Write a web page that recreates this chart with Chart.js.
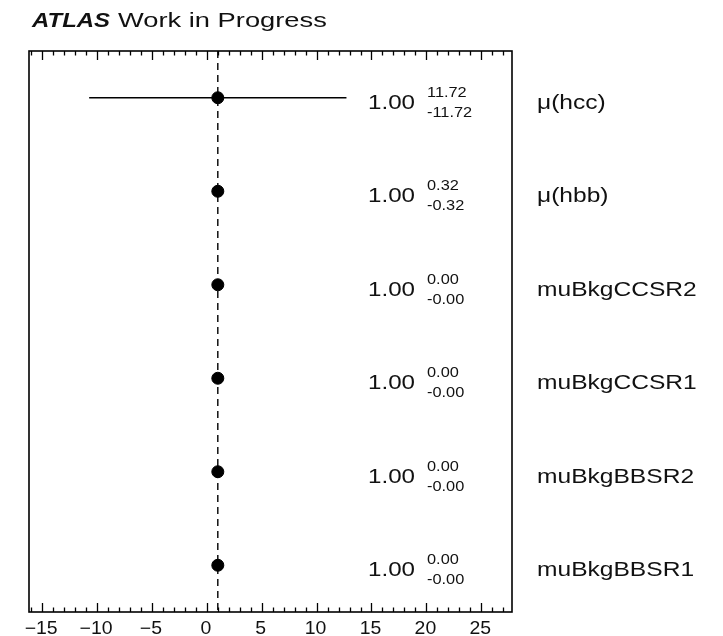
<!DOCTYPE html>
<html>
<head>
<meta charset="utf-8">
<script src="https://cdn.jsdelivr.net/npm/chart.js@4.4.0/dist/chart.umd.min.js"></script>
<style>
  html, body { margin: 0; padding: 0; background: #fff; }
  #wrap { width: 723px; height: 636px; }
</style>
</head>
<body>
<div id="wrap"><canvas id="pulls" width="723" height="636"></canvas></div>
<script>
// fitted parameters, top to bottom
const params = ['μ(hcc)', 'μ(hbb)', 'muBkgCCSR2', 'muBkgCCSR1', 'muBkgBBSR2', 'muBkgBBSR1'];
const bestFit = [1.00, 1.00, 1.00, 1.00, 1.00, 1.00];
const errUp = [11.72, 0.32, 0.00, 0.00, 0.00, 0.00];
const errDown = [11.72, 0.32, 0.00, 0.00, 0.00, 0.00];
const xTicks = [-15, -10, -5, 0, 5, 10, 15, 20, 25];
const refValue = 1;
const xMin = -16.2, xMax = 27.8;

const FONT = '"Liberation Sans", Arial, Helvetica, sans-serif';

function stretchText(ctx, txt, x, y, font, sx, align) {
  ctx.save();
  ctx.font = font;
  ctx.textAlign = align || 'left';
  ctx.textBaseline = 'alphabetic';
  ctx.translate(x, y);
  ctx.scale(sx, 1);
  ctx.fillText(txt, 0, 0);
  ctx.restore();
}

const rowY = i => i + 0.5;

const pointData = params.map((p, i) => ({ x: bestFit[i], y: rowY(i) }));

const errorSets = params.map((p, i) => ({
  type: 'line',
  data: [
    { x: bestFit[i] - errDown[i], y: rowY(i) },
    { x: bestFit[i] + errUp[i], y: rowY(i) }
  ],
  borderColor: '#000',
  borderWidth: 1.3,
  pointRadius: 0,
  showLine: true,
  order: 1
}));

// frame, inward ticks and all the text
const framePlugin = {
  id: 'frame',
  afterDraw(chart) {
    const ctx = chart.ctx;
    const a = chart.chartArea;
    const xs = chart.scales.x, ys = chart.scales.y;

    ctx.save();
    ctx.strokeStyle = '#000';
    ctx.lineWidth = 1.6;
    ctx.strokeRect(a.left, a.top, a.right - a.left, a.bottom - a.top);

    ctx.lineWidth = 1.3;
    ctx.beginPath();
    for (let v = Math.ceil(xMin); v <= xMax; v++) {
      const px = Math.round(xs.getPixelForValue(v)) + 0.5;
      const len = v % 5 === 0 ? 9 : 4.5;
      ctx.moveTo(px, a.bottom); ctx.lineTo(px, a.bottom - len);
      ctx.moveTo(px, a.top); ctx.lineTo(px, a.top + len);
    }
    ctx.stroke();
    ctx.restore();

    ctx.fillStyle = '#111';
    xTicks.forEach(v => {
      const lbl = v < 0 ? '\u2212' + Math.abs(v) : String(v);
      stretchText(ctx, lbl, xs.getPixelForValue(v) - 1, a.bottom + 22, '18px ' + FONT, 1.08, 'center');
    });

    // header
    stretchText(ctx, 'ATLAS', 32, 27, 'italic bold 21px ' + FONT, 1.14, 'left');
    stretchText(ctx, 'Work in Progress', 118, 27, '21px ' + FONT, 1.3, 'left');

    params.forEach((p, i) => {
      const y = ys.getPixelForValue(rowY(i));
      stretchText(ctx, bestFit[i].toFixed(2), 368, y + 11, '21px ' + FONT, 1.15, 'left');
      stretchText(ctx, errUp[i].toFixed(2), 427, y - 1, '15px ' + FONT, 1.09, 'left');
      stretchText(ctx, '-' + errDown[i].toFixed(2), 427, y + 19, '15px ' + FONT, 1.09, 'left');
      stretchText(ctx, p, 537, y + 11, '21px ' + FONT, 1.17, 'left');
    });
  }
};

new Chart(document.getElementById('pulls'), {
  type: 'scatter',
  data: {
    datasets: [
      {
        data: pointData,
        backgroundColor: '#000',
        borderColor: '#000',
        pointRadius: 6,
        pointHoverRadius: 6,
        order: 0
      },
      ...errorSets,
      {
        type: 'line',
        data: [{ x: refValue, y: 0 }, { x: refValue, y: 6 }],
        borderColor: '#000',
        borderWidth: 1.4,
        borderDash: [7, 5],
        pointRadius: 0,
        showLine: true,
        order: 2
      }
    ]
  },
  options: {
    responsive: false,
    animation: false,
    layout: { padding: { left: 29, right: 211, top: 51, bottom: 24 } },
    plugins: { legend: { display: false }, tooltip: { enabled: false } },
    scales: {
      x: { type: 'linear', min: xMin, max: xMax, display: false },
      y: { type: 'linear', min: 0, max: 6, reverse: true, display: false }
    }
  },
  plugins: [framePlugin]
});
</script>
</body>
</html>
